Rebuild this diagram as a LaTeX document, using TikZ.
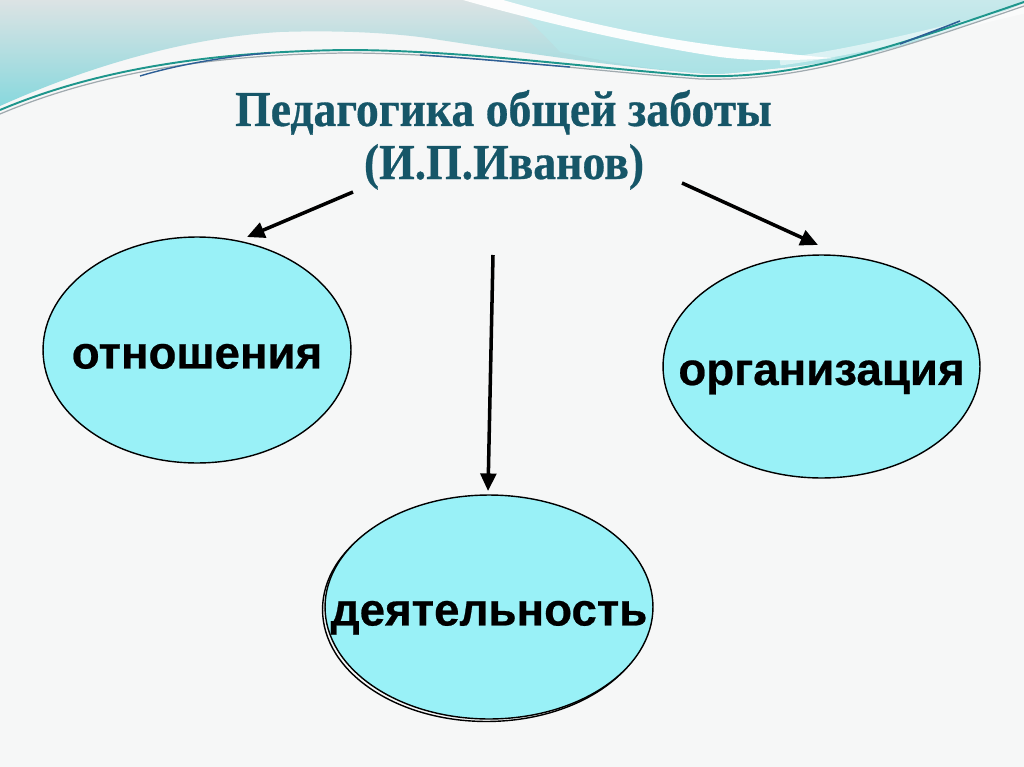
\documentclass[tikz,border=0pt]{standalone}
\usepackage{fontspec}
\setmainfont{Liberation Serif}
\newfontfamily\titlef[FakeBold=0.6]{Liberation Serif Bold}
\newfontfamily\arialf[FakeBold=0.5]{Liberation Sans Bold}
\usetikzlibrary{shapes.geometric,arrows.meta}
\definecolor{bg}{RGB}{246,247,247}
\definecolor{ellfill}{RGB}{153,241,247}
\definecolor{titlec}{RGB}{22,86,104}
\definecolor{wavegrey}{RGB}{220,227,228}
\definecolor{wavecyan}{RGB}{136,216,221}
\definecolor{wavecyanR}{RGB}{170,226,229}
\definecolor{wavecyanT}{RGB}{200,233,235}
\definecolor{streakteal}{RGB}{30,150,140}
\definecolor{streakblue}{RGB}{45,95,150}
\definecolor{streakgrey}{RGB}{160,170,175}
\newcommand\zw[1]{\makebox[0pt][c]{#1}}
\newcommand\tallt[1]{\scalebox{1}[1.1]{#1}}
\begin{document}
\begin{tikzpicture}[x=0.02cm,y=-0.02cm,
  oval/.style={ellipse, draw=black, line width=0.8pt, fill=ellfill, inner sep=0pt,
    text height=21pt, text depth=0pt, font=\arialf\fontsize{26}{30}\selectfont},
  ovalshadow/.style={ellipse, draw=black, line width=0.8pt, inner sep=0pt},
  titletext/.style={font=\titlef\fontsize{26}{30}\selectfont, text=titlec, inner sep=0pt, anchor=base},
  arr/.style={line width=2pt, -{Triangle[length=10pt,width=9pt]}}]
\useasboundingbox (0,0) rectangle (1024,767);
% background
\fill[bg] (0,0) rectangle (1024,767);
% top wave: left region
\shade[top color=wavegrey, bottom color=wavecyan]
  (0,0) -- (1024,0) -- (1024,3) .. controls (960,30) and (880,58) .. (780,68)
  .. controls (750,71) and (730,74) .. (710,74)
  .. controls (620,68) and (520,52) .. (440,40)
  .. controls (400,33) and (340,30) .. (280,32)
  .. controls (180,38) and (80,70) .. (0,106) -- cycle;
% top wave: right cyan region
\shade[top color=wavecyanT, bottom color=wavecyanR]
  (503,0) -- (1024,0) -- (1024,3) .. controls (960,30) and (880,58) .. (780,68)
  .. controls (750,71) and (730,74) .. (710,74)
  .. controls (640,69) and (600,60) .. (560,52)
  .. controls (540,30) and (520,12) .. (503,0) -- cycle;
% white diagonal band
\fill[white, opacity=0.95]
  (463,0) -- (503,0) .. controls (580,22) and (660,40) .. (753,50)
  .. controls (790,54) and (815,57) .. (835,58)
  .. controls (790,61) and (750,61) .. (720,57)
  .. controls (640,45) and (540,22) .. (463,0) -- cycle;
\draw[white, opacity=0.55, line width=4pt]
  (780,62) .. controls (870,50) and (950,27) .. (1024,10);
% streaks
\draw[streakgrey, line width=0.7pt]
  (0,114) .. controls (90,76) and (200,55) .. (345,53)
  .. controls (460,53) and (580,70) .. (700,79)
  .. controls (800,82) and (890,52) .. (1024,6);
\draw[streakteal, line width=1.1pt]
  (0,110) .. controls (90,72) and (200,52) .. (345,50)
  .. controls (460,50) and (580,67) .. (700,76)
  .. controls (800,79) and (890,48) .. (1024,2);
\draw[streakblue, line width=0.8pt]
  (140,76) .. controls (180,64) and (230,56) .. (270,53);
\draw[streakblue, line width=0.8pt]
  (420,55) .. controls (470,58) and (520,63) .. (570,67);
\draw[streakblue, line width=0.9pt]
  (900,44) .. controls (920,36) and (940,29) .. (960,21);
% title
\node[titletext] (t1) at (503.5,126) {\tallt{Педагогика общей заботы}};
\node[titletext] (t2) at (504,179) {\tallt{(И.П.Иванов)}};
% ellipses
\node[oval, minimum width=6.16cm, minimum height=4.52cm] (rel) at (197,350) {\zw{отношения}};
\node[oval, minimum width=6.34cm, minimum height=4.46cm] (org) at (821.5,366.5) {\zw{организация}};
\node[ovalshadow, minimum width=6.56cm, minimum height=4.48cm] (actsh) at (486.5,609.5) {};
\node[oval, minimum width=6.56cm, minimum height=4.48cm] (act) at (489,607) {\zw{деятельность}};
% arrows
\coordinate (a1s) at (353,192); \coordinate (a1e) at (247,237);
\coordinate (a2s) at (493,255); \coordinate (a2e) at (488,491);
\coordinate (a3s) at (682,183); \coordinate (a3e) at (818,245);
\draw[arr] (a1s) -- (a1e);
\draw[arr] (a2s) -- (a2e);
\draw[arr] (a3s) -- (a3e);
\end{tikzpicture}
\end{document}
